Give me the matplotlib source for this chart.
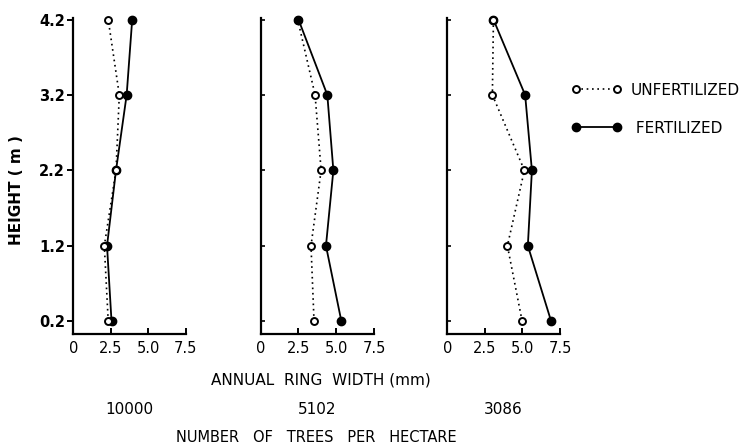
import matplotlib
matplotlib.use("Agg")
import matplotlib.pyplot as plt
from matplotlib.lines import Line2D

# heights along the stem (m)
heights = [0.2, 1.2, 2.2, 3.2, 4.2]
height_labels = ["0.2", "1.2", "2.2", "3.2", "4.2"]

# stand densities (trees per hectare), one panel each
densities = ["10000", "5102", "3086"]

# annual ring width (mm), bottom to top
unfert_10000 = [2.33, 2.07, 2.85, 3.07, 2.33]
fert_10000 = [2.55, 2.25, 2.85, 3.56, 3.93]
unfert_5102 = [3.53, 3.33, 4.00, 3.60, 2.45]
fert_5102 = [5.34, 4.32, 4.81, 4.41, 2.50]
unfert_3086 = [4.98, 4.00, 5.13, 3.00, 3.07]
fert_3086 = [6.91, 5.36, 5.63, 5.18, 3.07]

xticks = [0, 2.5, 5.0, 7.5]
xtick_labels = ["0", "2.5", "5.0", "7.5"]

W, H = 750, 447
fig = plt.figure(figsize=(7.5, 4.47), dpi=100)

# panel placement in pixels: left, right
panels_px = [(73.3, 185.7), (260.7, 374.0), (447.3, 560.0)]
bottom_px, top_px = 334, 18

unfert = [unfert_10000, unfert_5102, unfert_3086]
fert = [fert_10000, fert_5102, fert_3086]

dot = (0, (1, 2.2))
for i, (l, r) in enumerate(panels_px):
	ax = fig.add_axes([l / W, (H - bottom_px) / H, (r - l) / W, (bottom_px - top_px) / H])
	# open circles over filled ones except in the middle panel
	zu, zf = (3, 2) if i != 1 else (2, 3)
	ax.plot(unfert[i], heights, linestyle=dot, color="black", lw=1.2,
		marker="o", ms=5, mfc="white", mec="black", mew=1.4, zorder=zu, clip_on=False)
	ax.plot(fert[i], heights, linestyle="-", color="black", lw=1.3,
		marker="o", ms=6, mfc="black", mec="black", zorder=zf, clip_on=False)
	ax.set_xlim(0, 7.5)
	ax.set_ylim(0.03, 4.22)
	ax.spines["top"].set_visible(False)
	ax.spines["right"].set_visible(False)
	for s in ("left", "bottom"):
		ax.spines[s].set_linewidth(1.6)
	ax.set_xticks(xticks)
	ax.set_xticklabels(xtick_labels, fontsize=10.5)
	ax.tick_params(axis="x", direction="in", length=4, width=1.4, pad=5)
	ax.set_yticks(heights)
	if i == 0:
		ax.set_yticklabels(height_labels, fontsize=10.5, fontweight="bold")
		ax.tick_params(axis="y", direction="out", length=4, width=1.4, pad=2)
	else:
		ax.set_yticklabels([])
		ax.tick_params(axis="y", direction="in", length=3, width=1.2)
	ax.text(0.5, -0.24, densities[i], transform=ax.transAxes, ha="center", va="center", fontsize=11)
	ax.patch.set_alpha(0)

fig.text(17 / W, 1 - 190 / H, "HEIGHT ( m )", rotation=90, ha="center", va="center",
	fontsize=11, fontweight="bold")
fig.text(321 / W, 1 - 380 / H, "ANNUAL  RING  WIDTH (mm)", ha="center", va="center", fontsize=11)
fig.text(316 / W, 1 - 437 / H, "NUMBER   OF   TREES   PER   HECTARE", ha="center", va="center", fontsize=10.5)

handles = [
	Line2D([], [], linestyle=dot, color="black", lw=1.2, marker="o", ms=5, mfc="white", mec="black", mew=1.4),
	Line2D([], [], linestyle="-", color="black", lw=1.3, marker="o", ms=6, mfc="black", mec="black"),
]
fig.legend(handles, ["UNFERTILIZED", " FERTILIZED"], loc="upper left",
	bbox_to_anchor=(558 / W, 1 - 69 / H), frameon=False, numpoints=2,
	handlelength=3.25, handletextpad=0.6, labelspacing=1.5, fontsize=11)

fig.savefig("out.png", dpi=100)
